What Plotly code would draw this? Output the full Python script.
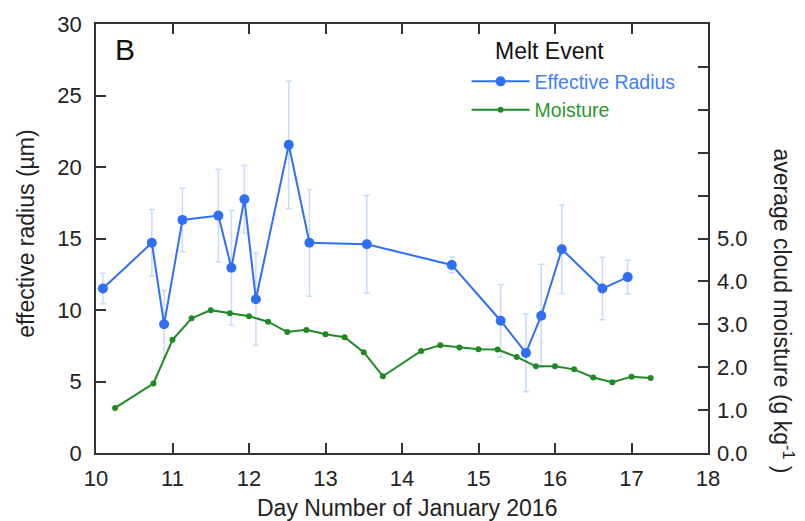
import plotly.graph_objects as go

# Effective radius (left axis, µm)
radius_day = [10.09, 10.73, 10.89, 11.13, 11.60, 11.77, 11.94, 12.09, 12.52, 12.79,
              13.54, 14.65, 15.29, 15.62, 15.82, 16.09, 16.62, 16.95]
radius = [11.5, 14.7, 9.0, 16.3, 16.6, 12.95, 17.75, 10.75, 21.55, 14.7,
          14.6, 13.15, 9.25, 7.0, 9.6, 14.25, 11.5, 12.3]
radius_err = [1.07, 2.33, 2.36, 2.22, 3.24, 4.0, 2.36, 3.21, 4.47, 3.73,
              3.41, 0.55, 2.53, 2.72, 3.6, 3.1, 2.19, 1.18]

# Average cloud moisture (right axis, g/kg)
moist_day = [10.25, 10.75, 11.0, 11.25, 11.5, 11.75, 12.0, 12.25, 12.5, 12.75,
             13.0, 13.25, 13.5, 13.75, 14.25, 14.5, 14.75, 15.0, 15.25, 15.5,
             15.75, 16.0, 16.25, 16.5, 16.75, 17.0, 17.25]
moist = [1.05, 1.62, 2.64, 3.14, 3.33, 3.26, 3.19, 3.06, 2.82, 2.87,
         2.77, 2.70, 2.35, 1.79, 2.38, 2.51, 2.46, 2.42, 2.41, 2.24,
         2.02, 2.02, 1.95, 1.76, 1.65, 1.78, 1.75]

y2_hidden = {"6.0": " ", "7.0": " ", "8.0": " ", "9.0": " ", "10.0": " "}

BLUE = "#2f6ff5"
BLUE_LIGHT = "#c9dbfb"
GREEN = "#1f8a24"
AX = "#333333"
TXT = "#222222"
FONT = "Liberation Sans, Arial, Helvetica, sans-serif"

fig = go.Figure()
fig.add_trace(go.Scatter(
    x=radius_day, y=radius, mode="lines+markers",
    name="<span style='color:#3f7ff7'>Effective Radius</span>",
    line=dict(color=BLUE, width=2),
    marker=dict(color=BLUE, size=10),
    error_y=dict(type="data", array=radius_err, visible=True,
                 color=BLUE_LIGHT, thickness=1.5, width=3),
    yaxis="y",
))
fig.add_trace(go.Scatter(
    x=moist_day, y=moist, mode="lines+markers",
    name="<span style='color:#2a982d'>Moisture</span>",
    line=dict(color=GREEN, width=2),
    marker=dict(color=GREEN, size=6),
    yaxis="y2",
))

fig.update_layout(
    width=805, height=521, autosize=False,
    margin=dict(l=96, r=97, t=17, b=68, pad=0),
    paper_bgcolor="white", plot_bgcolor="white",
    font=dict(family=FONT, size=22, color=TXT),
    showlegend=True,
    legend=dict(x=0.6055, y=0.911, xanchor="left", yanchor="top",
                bgcolor="rgba(0,0,0,0)", font=dict(size=19.5, family=FONT),
                itemwidth=58),
    xaxis=dict(range=[10, 18], tickmode="linear", tick0=10, dtick=1,
               ticks="inside", ticklen=10,
               tickwidth=1.5, tickcolor=AX, showline=True, linecolor=AX,
               linewidth=1.5, mirror="ticks", showgrid=False, zeroline=False,
               tickfont=dict(size=22, color=TXT), ticklabelstandoff=5),
    yaxis=dict(range=[0, 30], tickmode="linear", tick0=0, dtick=5,
               ticks="inside", ticklen=10,
               tickwidth=1.5, tickcolor=AX, showline=True, linecolor=AX,
               linewidth=1.5, mirror=True, showgrid=False, zeroline=False,
               tickfont=dict(size=22, color=TXT), ticklabelstandoff=8),
    yaxis2=dict(range=[0, 10], overlaying="y", side="right", tickmode="linear",
                tick0=0, dtick=1, tickformat=".1f", labelalias=y2_hidden,
                ticks="inside", ticklen=10, tickwidth=1.5,
                tickcolor=AX, showline=False, showgrid=False, zeroline=False,
                tickfont=dict(size=22, color=TXT), ticklabelstandoff=8),
    # tick-only overlay axes (major + minor ticks on bottom/top and left)
    xaxis2=dict(range=[10, 18], overlaying="x", anchor="y", side="bottom",
                tickmode="linear", tick0=10, dtick=1, ticks="inside", ticklen=10,
                tickwidth=1.5, tickcolor=AX, showticklabels=False,
                showline=False, mirror="ticks", showgrid=False, zeroline=False,
                minor=dict(tickmode="linear", dtick=0.2, ticks="inside", ticklen=5,
                           tickwidth=1.5, tickcolor=AX, showgrid=False)),
    yaxis3=dict(range=[0, 30], overlaying="y", anchor="x", side="left",
                tickmode="linear", tick0=0, dtick=5, ticks="inside", ticklen=10,
                tickwidth=1.5, tickcolor=AX, showticklabels=False,
                showline=False, showgrid=False, zeroline=False,
                minor=dict(tickmode="linear", dtick=1, ticks="inside", ticklen=5,
                           tickwidth=1.5, tickcolor=AX, showgrid=False)),
    annotations=[
        dict(text="B", x=0.0278, y=0.94, xref="paper", yref="paper",
             xanchor="left", yanchor="middle", showarrow=False,
             font=dict(size=30, color="#111111", family=FONT)),
        dict(text="Melt Event", x=0.6487, y=0.9375, xref="paper", yref="paper",
             xanchor="left", yanchor="middle", showarrow=False,
             font=dict(size=23, color="#111111", family=FONT)),
        dict(text="effective radius (µm)", x=-0.1144, y=0.511, xref="paper",
             yref="paper", xanchor="center", yanchor="middle", textangle=-90,
             showarrow=False, font=dict(size=23, color=TXT, family=FONT)),
        dict(text="average cloud moisture (g kg<sup>-1</sup> )", x=1.1225, y=0.33,
             xref="paper", yref="paper", xanchor="center", yanchor="middle",
             textangle=90, showarrow=False,
             font=dict(size=23, color=TXT, family=FONT)),
        dict(text="Day Number of January 2016", x=0.508, y=-0.128, xref="paper",
             yref="paper", xanchor="center", yanchor="middle", showarrow=False,
             font=dict(size=23, color=TXT, family=FONT)),
    ],
)

fig.write_html("out.html")
